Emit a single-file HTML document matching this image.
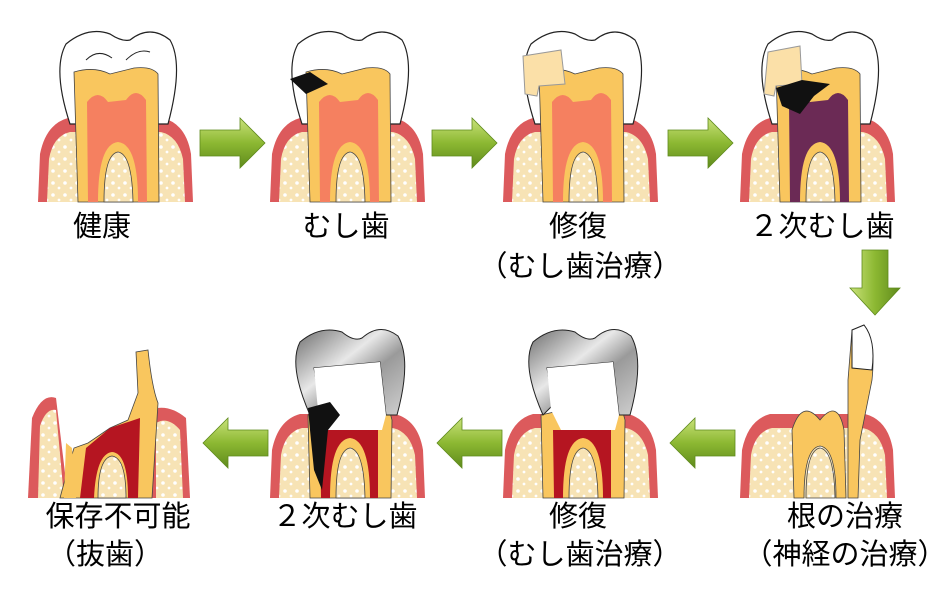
<!DOCTYPE html><html><head><meta charset="utf-8"><style>
html,body{margin:0;padding:0;background:#fff;width:939px;height:595px;overflow:hidden}
.t{position:absolute;font-family:"Liberation Sans","Noto Sans CJK JP",sans-serif;font-size:29px;color:#000;white-space:nowrap;transform:translateX(-50%);line-height:1}
</style></head><body>
<svg width="939" height="595" style="position:absolute;left:0;top:0">
<defs>
<pattern id="dots" width="12" height="12" patternUnits="userSpaceOnUse"><rect width="12" height="12" fill="#f7e3b5"/><circle cx="3" cy="3" r="1.8" fill="#fff"/><circle cx="9" cy="8" r="1.4" fill="#fff"/></pattern>
<linearGradient id="ga" x1="0" y1="0" x2="0" y2="1"><stop offset="0" stop-color="#c9e27a"/><stop offset="0.5" stop-color="#8cb832"/><stop offset="1" stop-color="#5f8a1c"/></linearGradient>
<linearGradient id="gv" x1="0" y1="0" x2="1" y2="0"><stop offset="0" stop-color="#c9e27a"/><stop offset="0.5" stop-color="#8cb832"/><stop offset="1" stop-color="#5f8a1c"/></linearGradient>
<linearGradient id="metal" x1="0" y1="0" x2="1" y2="1"><stop offset="0" stop-color="#6d6d6d"/><stop offset="0.4" stop-color="#e8e8e8"/><stop offset="0.6" stop-color="#9a9a9a"/><stop offset="1" stop-color="#d0d0d0"/></linearGradient>
<g id="base">
<path d="M0,178 L2,130 Q8,100 30,94 L125,94 Q148,100 153,130 L155,178 Z" fill="#dc5a5c"/>
<path d="M9,178 L11,135 Q15,112 32,108 L123,108 Q140,112 145,135 L147,178 Z" fill="url(#dots)"/>
</g>
<path id="dent" d="M40,178 L36,48 Q56,42 72,50 L96,44 Q114,42 120,50 L121,178 Z" fill="#f9c65e" stroke="#444" stroke-width="0.8"/>
<path id="crown" d="M32,100 Q14,45 28,20 Q50,2 72,10 Q84,18 92,16 Q112,0 132,16 Q146,40 130,100 Z" fill="#fff" stroke="#222" stroke-width="1.2"/>
<path id="bone" d="M66,178 Q66,130 80,128 Q94,130 95,178 Z" fill="url(#dots)" stroke="#444" stroke-width="0.8"/>
<path id="pulp" d="M50,178 L49,78 Q60,64 70,78 L88,76 Q98,62 108,76 L109,178 L100,178 Q100,120 80,118 Q60,120 60,178 Z"/>
</defs>

<g transform="translate(38,24)">
<use href="#base"/><use href="#crown"/><use href="#dent"/>
<use href="#pulp" fill="#f58060"/>
<use href="#bone"/>
<path d="M48,36 Q60,24 74,34 M88,36 Q100,24 112,28" stroke="#222" fill="none"/>
</g>
<g transform="translate(270,24)">
<use href="#base"/><use href="#crown"/><use href="#dent"/>
<use href="#pulp" fill="#f58060"/>
<use href="#bone"/>
<path d="M20,55 L40,48 L58,60 L36,70 Z" fill="#111"/>
</g>
<g transform="translate(503,24)">
<use href="#base"/><use href="#crown"/><use href="#dent"/>
<use href="#pulp" fill="#f58060"/>
<use href="#bone"/>
<path d="M20,32 L58,26 L62,60 L36,62 L34,72 L22,70 Z" fill="#fbe0a8" stroke="#999"/>
</g>
<g transform="translate(740,24)">
<use href="#base"/><use href="#crown"/><use href="#dent"/>
<use href="#pulp" fill="#6b2a55"/>
<use href="#bone"/>
<path d="M28,28 L60,22 L62,60 L36,62 L34,72 L24,70 Z" fill="#fbe0a8" stroke="#999"/>
<path d="M36,64 L62,56 L90,60 L74,72 L60,90 L42,82 Z" fill="#111"/>
</g>

<g transform="translate(740,320)">
<use href="#base"/>
<path d="M54,178 L52,110 Q62,78 80,100 Q98,78 104,110 L106,178 L96,178 Q96,128 80,126 Q64,128 64,178 Z" fill="#f9c65e" stroke="#444" stroke-width="0.8"/>
<use href="#bone"/>
<path d="M112,10 L124,5 Q136,20 132,60 L120,120 L118,178 L108,178 L108,60 Z" fill="#f9c65e" stroke="#444" stroke-width="0.8"/>
<path d="M112,10 L124,5 Q136,20 132,50 L112,48 Z" fill="#fff" stroke="#222"/>
</g>
<g transform="translate(503,320)">
<use href="#base"/>
<path d="M40,178 L38,95 L60,90 L72,100 L110,55 L122,100 L121,178 Z" fill="#f9c65e" stroke="#444" stroke-width="0.8"/>
<path d="M51,178 L50,110 L108,110 L108,178 L100,178 Q100,120 80,118 Q60,120 60,178 Z" fill="#b51521"/>
<use href="#bone"/>
<path d="M40,95 Q18,45 30,22 Q50,5 72,12 Q84,22 92,18 Q110,2 128,16 Q142,40 127,95 L116,95 L110,42 L44,48 L50,85 Z" fill="url(#metal)" stroke="#222"/>
<path d="M44,48 L110,42 L116,95 L112,110 L58,110 L48,90 Z" fill="#fff"/>
</g>
<g transform="translate(270,320)">
<use href="#base"/>
<path d="M40,178 L38,95 L60,90 L72,100 L110,55 L122,100 L121,178 Z" fill="#f9c65e" stroke="#444" stroke-width="0.8"/>
<path d="M51,178 L50,110 L108,110 L108,178 L100,178 Q100,120 80,118 Q60,120 60,178 Z" fill="#b51521"/>
<use href="#bone"/>
<path d="M40,95 Q18,45 30,22 Q50,5 72,12 Q84,22 92,18 Q110,2 128,16 Q142,40 127,95 L116,95 L110,42 L44,48 L50,85 Z" fill="url(#metal)" stroke="#222"/>
<path d="M44,48 L110,42 L116,95 L112,110 L58,110 L48,90 Z" fill="#fff"/>
<path d="M38,88 L60,82 L70,95 L58,110 L52,170 L44,150 L40,110 Z" fill="#111"/>
</g>
<g transform="translate(28,348)">
<path d="M0,150 L4,70 Q14,45 28,50 L40,150 Z" fill="#dc5a5c"/>
<path d="M10,150 L12,78 Q18,60 28,62 L36,150 Z" fill="url(#dots)"/>
<path d="M120,150 L122,62 Q140,55 158,70 L162,150 Z" fill="#dc5a5c"/>
<path d="M128,150 L128,75 Q140,68 152,82 L155,150 Z" fill="url(#dots)"/>
<path d="M32,150 Q40,120 46,100 L60,95 L82,80 L100,72 L110,45 L108,4 L120,2 Q124,40 130,55 L124,150 Z" fill="#f9c65e" stroke="#444" stroke-width="0.8"/>
<path d="M52,150 L58,100 L82,80 L112,70 L110,150 L100,150 Q100,105 84,104 Q68,106 66,150 Z" fill="#b51521"/>
<path d="M70,150 Q70,110 84,108 Q98,110 98,150 Z" fill="url(#dots)" stroke="#444" stroke-width="0.8"/>
<path d="M36,150 L38,95 L44,100 L48,150 Z" fill="#f9c65e"/>
</g>

<g fill="url(#ga)" stroke="#5f8a1c" stroke-width="0.8">
<path d="M200,130 L240,130 L240,118 L265,143 L240,168 L240,156 L200,156 Z"/>
<path d="M432,130 L472,130 L472,118 L497,143 L472,168 L472,156 L432,156 Z"/>
<path d="M668,130 L708,130 L708,118 L733,143 L708,168 L708,156 L668,156 Z"/>
<path d="M268,430 L228,430 L228,418 L203,443 L228,468 L228,456 L268,456 Z"/>
<path d="M502,430 L462,430 L462,418 L437,443 L462,468 L462,456 L502,456 Z"/>
<path d="M735,430 L695,430 L695,418 L670,443 L695,468 L695,456 L735,456 Z"/>
</g>
<path d="M862,250 L888,250 L888,288 L900,288 L875,315 L850,288 L862,288 Z" fill="url(#gv)" stroke="#5f8a1c" stroke-width="0.8"/>
</svg>

<div class="t" style="left:102px;top:213px">健康</div>
<div class="t" style="left:346px;top:213px">むし歯</div>
<div class="t" style="left:578px;top:213px">修復</div>
<div class="t" style="left:580px;top:253px">（むし歯治療）</div>
<div class="t" style="left:822px;top:213px">２次むし歯</div>
<div class="t" style="left:118px;top:503px">保存不可能</div>
<div class="t" style="left:105px;top:541px">（抜歯）</div>
<div class="t" style="left:345px;top:503px">２次むし歯</div>
<div class="t" style="left:578px;top:503px">修復</div>
<div class="t" style="left:580px;top:541px">（むし歯治療）</div>
<div class="t" style="left:845px;top:503px">根の治療</div>
<div class="t" style="left:845px;top:541px">（神経の治療）</div>
</body></html>
